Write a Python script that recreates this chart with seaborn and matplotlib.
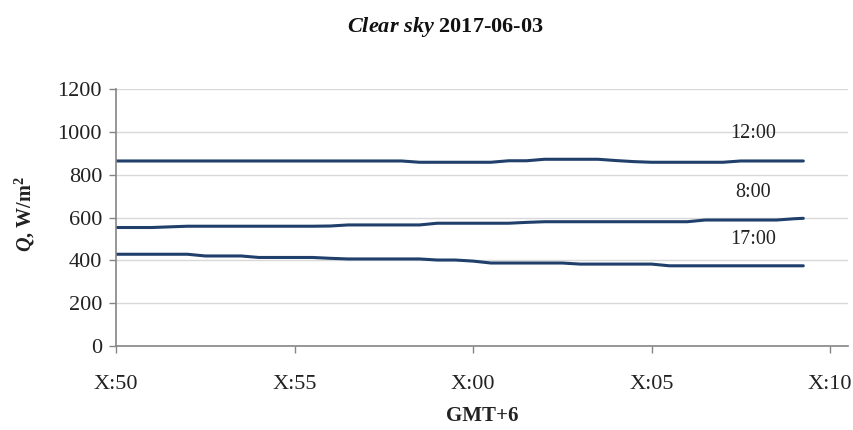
import numpy as np
import pandas as pd
import seaborn as sns
import matplotlib.pyplot as plt

# minutes after X:50 (GMT+6)
minutes = [0, 0.5, 1, 1.5, 2, 2.5, 3, 3.5, 4, 4.5, 5, 5.5, 6, 6.5, 7, 7.5,
           8, 8.5, 9, 9.5, 10, 10.5, 11, 11.5, 12, 12.5, 13, 13.5, 14, 14.5,
           15, 15.5, 16, 16.5, 17, 17.5, 18, 18.5, 19, 19.25]

# irradiance Q, W/m2
q_1200 = [865] * 17 + [859] * 5 + [866, 866] + [873] * 4 + [867, 862] + [859] * 5 + [865] * 5
q_0800 = [554, 554, 554, 557] + [560] * 8 + [561] + [566] * 5 + [574] * 5 + [578] + \
         [581] * 9 + [589] * 5 + [595, 597]
q_1700 = [429] * 5 + [421] * 3 + [414] * 4 + [410] + [407] * 5 + [402] * 2 + [397] + \
         [388] * 5 + [383] * 5 + [375] * 9

series_names = ['12:00', '8:00', '17:00']
series_values = [q_1200, q_0800, q_1700]
label_y = [995, 716, 498]

x_ticks = [0, 5, 10, 15, 20]
x_ticklabels = ['X:50', 'X:55', 'X:00', 'X:05', 'X:10']
y_ticks = [0, 200, 400, 600, 800, 1000, 1200]

df = pd.concat([pd.DataFrame({'t': minutes, 'q': v, 'series': n})
                for n, v in zip(series_names, series_values)])

sns.set_style('white')
plt.rcParams['font.family'] = ['Liberation Serif', 'DejaVu Serif']
plt.rcParams['mathtext.fontset'] = 'custom'
plt.rcParams['mathtext.rm'] = 'Liberation Serif:bold'
plt.rcParams['mathtext.it'] = 'Liberation Serif:bold:italic'
plt.rcParams['mathtext.bf'] = 'Liberation Serif:bold'

line_color = '#203f6b'
axis_color = '#858585'

fig = plt.figure(figsize=(8.54, 4.30), dpi=100)
ax = fig.add_axes([0.1358, 0.1953, 0.8571, 0.597])

sns.lineplot(data=df, x='t', y='q', hue='series', palette=[line_color] * 3,
             linewidth=2.2, legend=False, ax=ax)

for name, yv in zip(series_names, label_y):
    ax.text(17.85, yv, name, ha='center', va='center', fontsize=14.5, color='#222222')

ax.set_xlim(0, 20.5)
ax.set_ylim(0, 1200)
ax.set_xticks(x_ticks)
ax.set_xticklabels(x_ticklabels)
ax.set_yticks(y_ticks)
ax.yaxis.grid(True, color='#d9d9d9', linewidth=1)
ax.set_axisbelow(True)

for side in ['top', 'right']:
    ax.spines[side].set_visible(False)
for side in ['left', 'bottom']:
    ax.spines[side].set_color(axis_color)
    ax.spines[side].set_linewidth(1.2)

ax.tick_params(axis='x', direction='out', length=5, width=1, color=axis_color,
               labelsize=16, pad=16, labelcolor='#222222')
ax.tick_params(axis='y', direction='out', length=5, width=1, color=axis_color,
               labelsize=16, pad=5, labelcolor='#222222')
ax.tick_params(bottom=True, left=True)

ax.set_xlabel('GMT+6', fontsize=15, fontweight='bold', color='#222222')
ax.xaxis.set_label_coords(0.5, -0.235)
ax.set_ylabel(r'$Q$, W/m$^{\mathbf{2}}$', fontsize=14.5, fontweight='bold', color='#222222')
ax.yaxis.set_label_coords(-0.108, 0.514)

fig.text(445 / 854, 1 - 27 / 430, r'$Clear\ sky$ 2017-06-03', ha='center', va='center',
         fontsize=16, fontweight='bold', color='#111111')

fig.savefig('out.png', dpi=100)
